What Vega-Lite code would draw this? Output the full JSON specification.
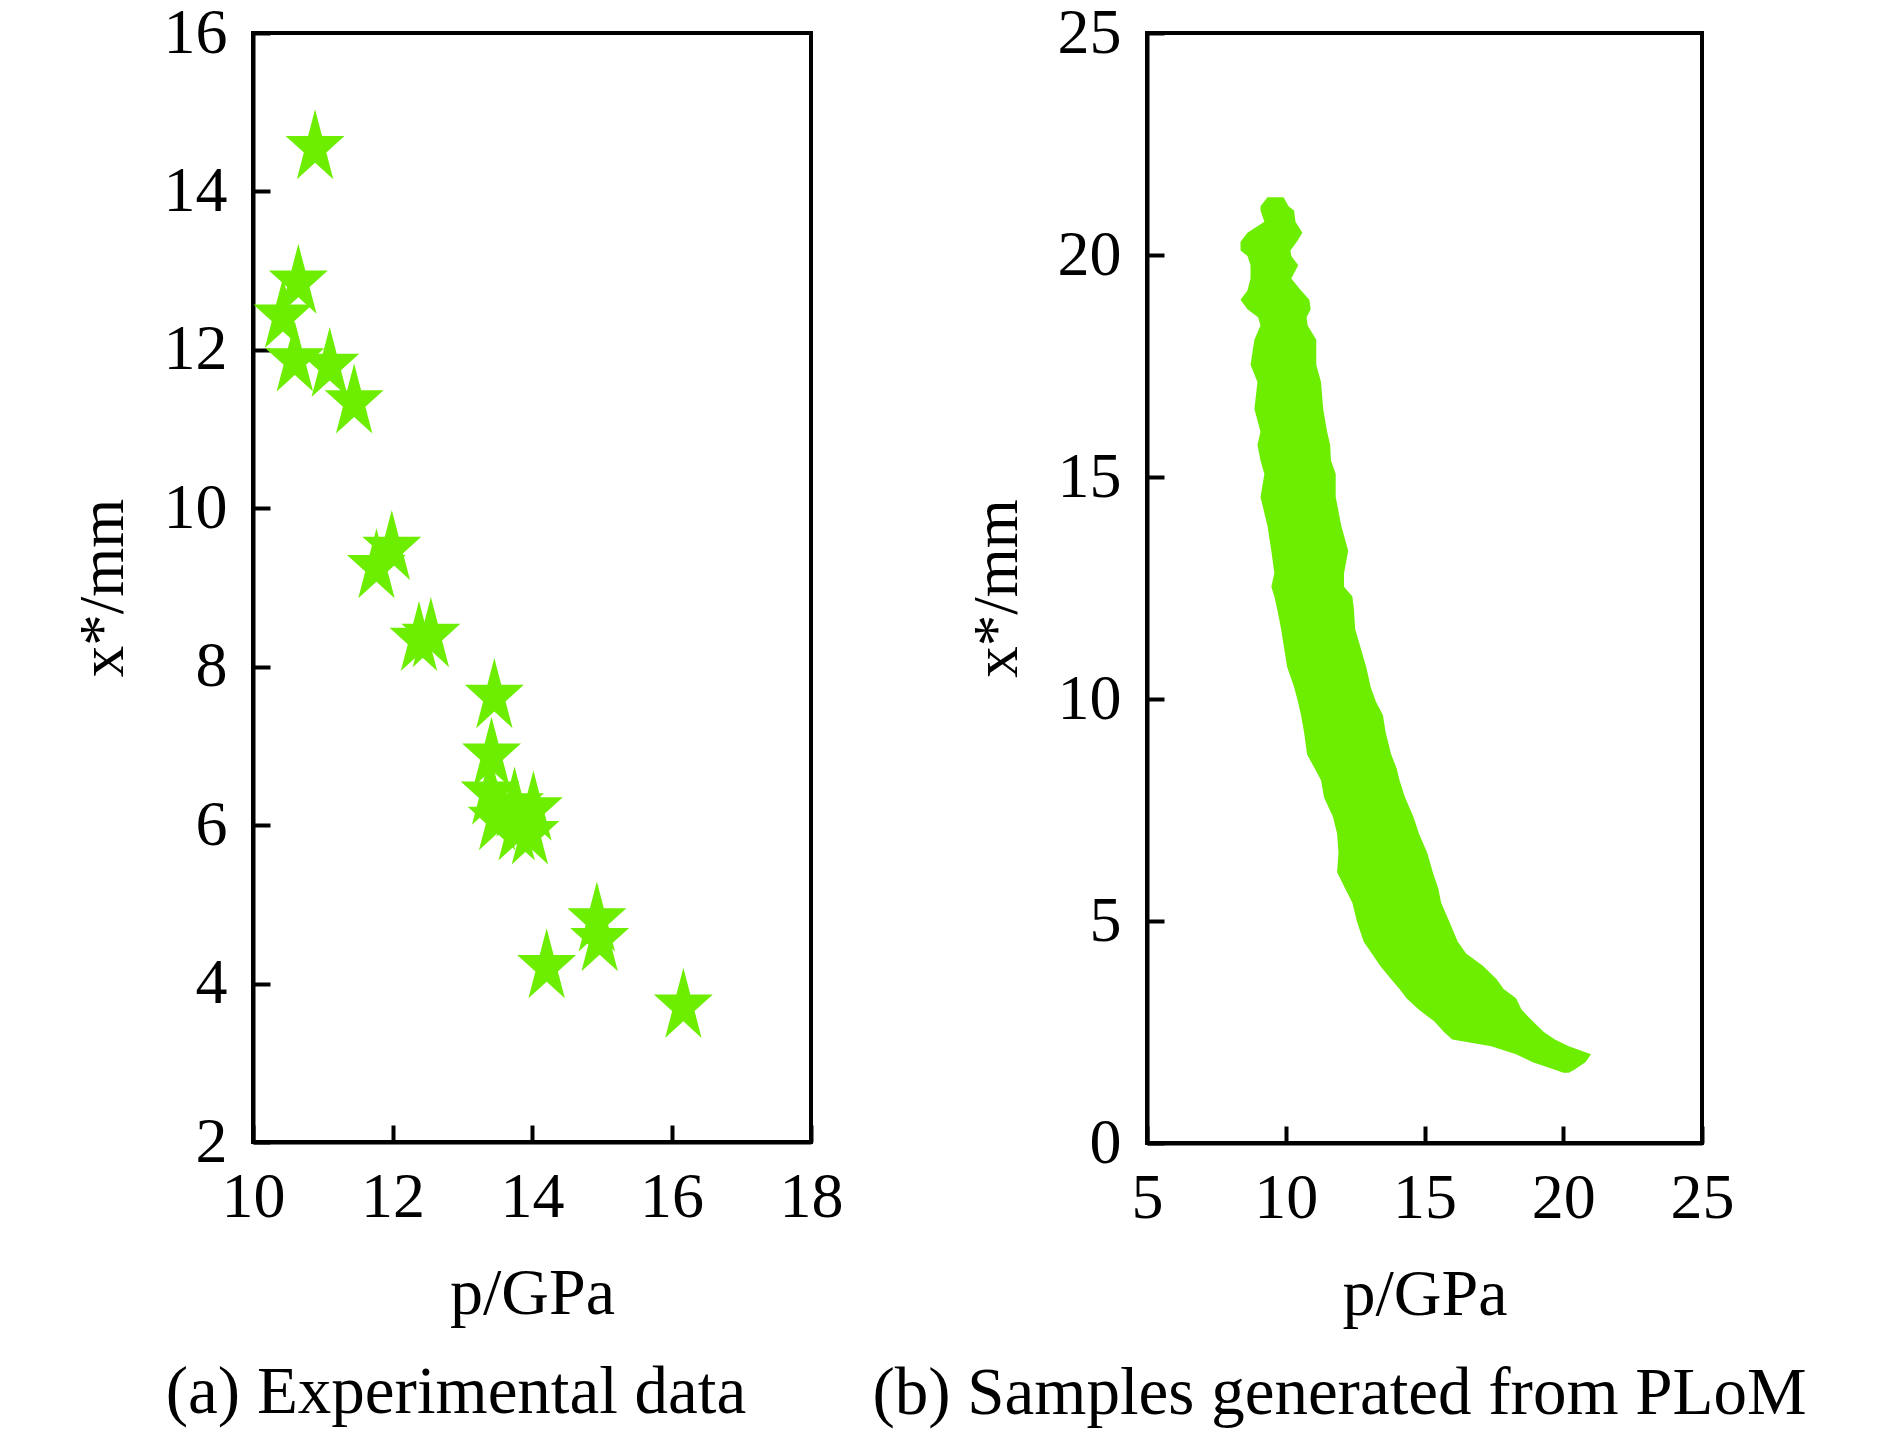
{
  "$schema": "https://vega.github.io/schema/vega-lite/v6.json",
  "autosize": {"type": "none"},
  "padding": {"left": 253, "top": 33, "right": 1637, "bottom": 1401},
  "background": "white",
  "spacing": 336,
  "bounds": "flush",
  "datasets": {
    "exp": [
      {"p": 10.89, "xs": 14.55},
      {"p": 10.65, "xs": 12.85},
      {"p": 10.43, "xs": 12.42},
      {"p": 10.6, "xs": 11.87},
      {"p": 11.1, "xs": 11.8},
      {"p": 11.45, "xs": 11.34},
      {"p": 11.77, "xs": 9.26},
      {"p": 11.99, "xs": 9.49},
      {"p": 12.38, "xs": 8.34},
      {"p": 12.55, "xs": 8.39},
      {"p": 13.46, "xs": 7.62},
      {"p": 13.42, "xs": 6.88},
      {"p": 13.4, "xs": 6.4},
      {"p": 13.5, "xs": 6.08},
      {"p": 13.75, "xs": 6.25},
      {"p": 13.78, "xs": 5.95},
      {"p": 14.02, "xs": 6.2},
      {"p": 13.97, "xs": 5.9},
      {"p": 14.93, "xs": 4.8},
      {"p": 14.97, "xs": 4.55},
      {"p": 14.21, "xs": 4.21},
      {"p": 16.17, "xs": 3.71}
    ],
    "plom": [
      {"xs": 21.3, "lo": 9.34, "hi": 9.92},
      {"xs": 21.1, "lo": 9.09, "hi": 10.1},
      {"xs": 21.0, "lo": 9.09, "hi": 10.3},
      {"xs": 20.75, "lo": 9.23, "hi": 10.35},
      {"xs": 20.5, "lo": 8.62, "hi": 10.6},
      {"xs": 20.3, "lo": 8.37, "hi": 10.4},
      {"xs": 20.1, "lo": 8.37, "hi": 10.17},
      {"xs": 19.98, "lo": 8.62, "hi": 10.2},
      {"xs": 19.77, "lo": 8.73, "hi": 10.45},
      {"xs": 19.47, "lo": 8.73, "hi": 10.2},
      {"xs": 19.2, "lo": 8.62, "hi": 10.55},
      {"xs": 18.99, "lo": 8.37, "hi": 10.85},
      {"xs": 18.78, "lo": 8.62, "hi": 10.9},
      {"xs": 18.6, "lo": 9.0, "hi": 10.75},
      {"xs": 18.41, "lo": 9.09, "hi": 10.79},
      {"xs": 18.09, "lo": 8.87, "hi": 11.1},
      {"xs": 17.53, "lo": 8.73, "hi": 11.1},
      {"xs": 17.14, "lo": 8.98, "hi": 11.27},
      {"xs": 16.53, "lo": 8.87, "hi": 11.35},
      {"xs": 16.02, "lo": 9.09, "hi": 11.49},
      {"xs": 15.72, "lo": 8.98, "hi": 11.6},
      {"xs": 15.37, "lo": 9.09, "hi": 11.63},
      {"xs": 15.07, "lo": 9.23, "hi": 11.8},
      {"xs": 14.55, "lo": 9.09, "hi": 11.8},
      {"xs": 13.9, "lo": 9.34, "hi": 12.0},
      {"xs": 13.34, "lo": 9.48, "hi": 12.25},
      {"xs": 12.83, "lo": 9.59, "hi": 12.1},
      {"xs": 12.53, "lo": 9.48, "hi": 12.1},
      {"xs": 12.31, "lo": 9.59, "hi": 12.4},
      {"xs": 12.0, "lo": 9.7, "hi": 12.46},
      {"xs": 11.58, "lo": 9.83, "hi": 12.5},
      {"xs": 11.15, "lo": 9.94, "hi": 12.7},
      {"xs": 10.72, "lo": 10.05, "hi": 12.9},
      {"xs": 10.27, "lo": 10.3, "hi": 13.06},
      {"xs": 9.94, "lo": 10.44, "hi": 13.25},
      {"xs": 9.64, "lo": 10.55, "hi": 13.5},
      {"xs": 9.25, "lo": 10.66, "hi": 13.6},
      {"xs": 8.75, "lo": 10.77, "hi": 13.8},
      {"xs": 8.43, "lo": 11.05, "hi": 14.0},
      {"xs": 8.17, "lo": 11.27, "hi": 14.1},
      {"xs": 7.78, "lo": 11.38, "hi": 14.3},
      {"xs": 7.35, "lo": 11.7, "hi": 14.6},
      {"xs": 6.97, "lo": 11.85, "hi": 14.8},
      {"xs": 6.53, "lo": 11.9, "hi": 15.1},
      {"xs": 6.1, "lo": 11.85, "hi": 15.3},
      {"xs": 5.72, "lo": 12.15, "hi": 15.5},
      {"xs": 5.41, "lo": 12.4, "hi": 15.6},
      {"xs": 4.98, "lo": 12.57, "hi": 15.9},
      {"xs": 4.53, "lo": 12.81, "hi": 16.2},
      {"xs": 4.27, "lo": 13.1, "hi": 16.5},
      {"xs": 3.99, "lo": 13.4, "hi": 17.1},
      {"xs": 3.69, "lo": 13.8, "hi": 17.6},
      {"xs": 3.47, "lo": 14.1, "hi": 17.85},
      {"xs": 3.26, "lo": 14.35, "hi": 18.3},
      {"xs": 3.0, "lo": 14.8, "hi": 18.5},
      {"xs": 2.74, "lo": 15.35, "hi": 18.9},
      {"xs": 2.5, "lo": 15.7, "hi": 19.3},
      {"xs": 2.33, "lo": 16.0, "hi": 19.7},
      {"xs": 2.18, "lo": 17.4, "hi": 20.2},
      {"xs": 2.0, "lo": 18.3, "hi": 21.0},
      {"xs": 1.82, "lo": 18.9, "hi": 20.8},
      {"xs": 1.65, "lo": 19.7, "hi": 20.4},
      {"xs": 1.58, "lo": 20.0, "hi": 20.2}
    ]
  },
  "config": {
    "view": {"stroke": "#000000", "strokeWidth": 4},
    "axis": {
      "domainColor": "#000000",
      "domainWidth": 4,
      "tickColor": "#000000",
      "tickWidth": 4,
      "tickSize": -17,
      "grid": false,
      "labelFont": "Liberation Serif",
      "labelFontSize": 64,
      "labelColor": "#000000",
      "labelFlush": false,
      "labelOverlap": false,
      "titleFont": "Liberation Serif",
      "titleColor": "#000000",
      "titleFontWeight": "normal"
    },
    "axisX": {"labelPadding": 40, "titleFontSize": 66, "titlePadding": 32},
    "axisY": {"labelPadding": 43, "titleFontSize": 63, "titlePadding": 28},
    "title": {"font": "Liberation Serif", "fontSize": 67, "fontWeight": "normal", "color": "#000000"}
  },
  "hconcat": [
    {
      "width": 558,
      "height": 1109,
      "data": {"name": "exp"},
      "title": {"text": "(a) Experimental data", "orient": "bottom", "anchor": "middle", "frame": "group", "dx": -76, "offset": 34},
      "mark": {
        "type": "point",
        "shape": "M0,-1L0.18,-0.309L0.761,-0.309L0.29,0.118L0.47,0.809L0,0.382L-0.47,0.809L-0.29,0.118L-0.761,-0.309L-0.18,-0.309Z",
        "filled": true,
        "size": 6000,
        "color": "#6DEE00",
        "opacity": 1,
        "strokeWidth": 0
      },
      "encoding": {
        "x": {"field": "p", "type": "quantitative", "scale": {"domain": [10, 18], "nice": false, "zero": false}, "axis": {"values": [10, 12, 14, 16, 18], "title": "p/GPa"}},
        "y": {"field": "xs", "type": "quantitative", "scale": {"domain": [2, 16], "nice": false, "zero": false}, "axis": {"values": [2, 4, 6, 8, 10, 12, 14, 16], "title": "x*/mm"}}
      }
    },
    {
      "width": 555,
      "height": 1110,
      "data": {"name": "plom"},
      "title": {"text": "(b) Samples generated from PLoM", "orient": "bottom", "anchor": "middle", "frame": "group", "dx": -85, "offset": 34},
      "mark": {"type": "area", "orient": "horizontal", "color": "#6DEE00", "opacity": 1},
      "encoding": {
        "y": {"field": "xs", "type": "quantitative", "scale": {"domain": [0, 25], "nice": false, "zero": false}, "axis": {"values": [0, 5, 10, 15, 20, 25], "title": "x*/mm"}},
        "x": {"field": "lo", "type": "quantitative", "scale": {"domain": [5, 25], "nice": false, "zero": false}, "axis": {"values": [5, 10, 15, 20, 25], "title": "p/GPa"}},
        "x2": {"field": "hi"}
      }
    }
  ]
}
